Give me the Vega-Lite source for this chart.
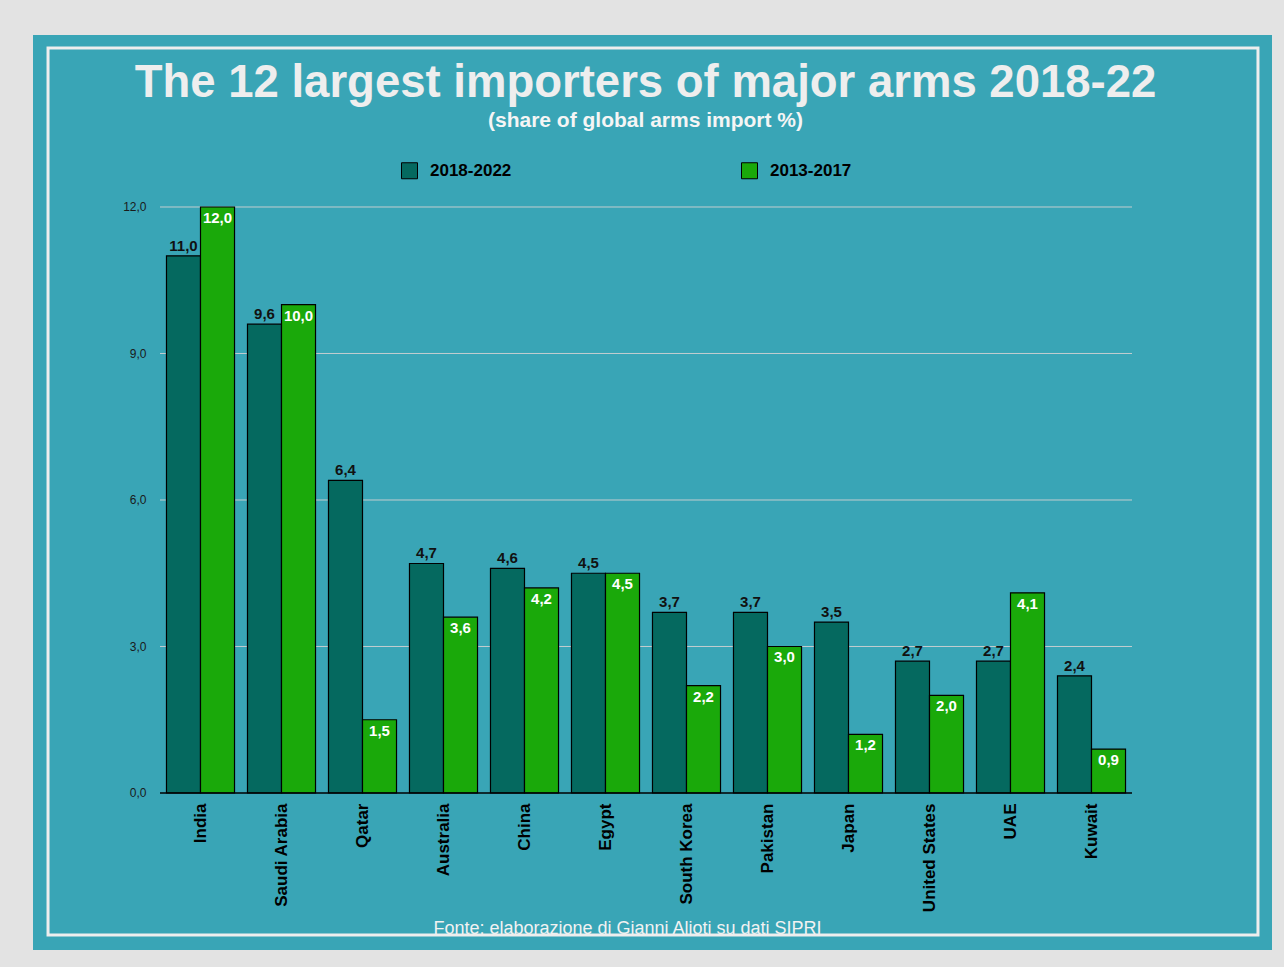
{
  "$schema": "https://vega.github.io/schema/vega-lite/v6.json",
  "width": 1239,
  "height": 915,
  "autosize": {"type": "none"},
  "padding": {"left": 33, "top": 35, "right": 12, "bottom": 17},
  "background": "#e3e3e3",
  "config": {
    "view": {"fill": "#39a5b6", "stroke": null},
    "font": "Liberation Sans",
    "locale": {"number": {"decimal": ",", "thousands": ".", "grouping": [3], "currency": ["", "€"]}}
  },
  "title": {
    "text": "The 12 largest importers of major arms 2018-22",
    "subtitle": "(share of global arms import %)",
    "anchor": "middle",
    "frame": "group",
    "offset": -96,
    "dx": -7,
    "font": "Liberation Sans",
    "fontSize": 45.5,
    "fontWeight": "bold",
    "color": "#eeeeee",
    "subtitleFont": "Liberation Sans",
    "subtitleColor": "#f5f5f5",
    "subtitleFontSize": 21,
    "subtitleFontWeight": "bold",
    "subtitlePadding": 4
  },
  "datasets": {
    "arms": [
      {"country": "India", "period": "2018-2022", "value": 11.0},
      {"country": "India", "period": "2013-2017", "value": 12.0},
      {"country": "Saudi Arabia", "period": "2018-2022", "value": 9.6},
      {"country": "Saudi Arabia", "period": "2013-2017", "value": 10.0},
      {"country": "Qatar", "period": "2018-2022", "value": 6.4},
      {"country": "Qatar", "period": "2013-2017", "value": 1.5},
      {"country": "Australia", "period": "2018-2022", "value": 4.7},
      {"country": "Australia", "period": "2013-2017", "value": 3.6},
      {"country": "China", "period": "2018-2022", "value": 4.6},
      {"country": "China", "period": "2013-2017", "value": 4.2},
      {"country": "Egypt", "period": "2018-2022", "value": 4.5},
      {"country": "Egypt", "period": "2013-2017", "value": 4.5},
      {"country": "South Korea", "period": "2018-2022", "value": 3.7},
      {"country": "South Korea", "period": "2013-2017", "value": 2.2},
      {"country": "Pakistan", "period": "2018-2022", "value": 3.7},
      {"country": "Pakistan", "period": "2013-2017", "value": 3.0},
      {"country": "Japan", "period": "2018-2022", "value": 3.5},
      {"country": "Japan", "period": "2013-2017", "value": 1.2},
      {"country": "United States", "period": "2018-2022", "value": 2.7},
      {"country": "United States", "period": "2013-2017", "value": 2.0},
      {"country": "UAE", "period": "2018-2022", "value": 2.7},
      {"country": "UAE", "period": "2013-2017", "value": 4.1},
      {"country": "Kuwait", "period": "2018-2022", "value": 2.4},
      {"country": "Kuwait", "period": "2013-2017", "value": 0.9}
    ]
  },
  "resolve": {"scale": {"x": "independent"}},
  "layer": [
    {
      "data": {"values": [{"v": 3}, {"v": 6}, {"v": 9}, {"v": 12}]},
      "mark": {"type": "rule", "color": "#c3cdd0", "strokeWidth": 1},
      "encoding": {
        "x": {"datum": 0, "type": "quantitative", "scale": {"domain": [-0.13066, 1.14403], "nice": false, "zero": false}, "axis": null},
        "x2": {"datum": 1},
        "y": {
          "field": "v", "type": "quantitative", "title": null,
          "scale": {"domain": [-3.215, 15.522], "nice": false, "zero": false},
          "axis": {
            "values": [0, 3, 6, 9, 12], "format": ".1f", "offset": -113, "ticks": false, "domain": false, "grid": false,
            "labelFontSize": 12, "labelColor": "#1a1a1a", "labelPadding": 0, "title": null
          }
        }
      }
    },
    {
      "data": {"values": [{"b": 1}]},
      "mark": {"type": "rect", "filled": false, "color": "#eeeeee", "strokeWidth": 3},
      "encoding": {
        "x": {"datum": -0.1152, "type": "quantitative", "scale": {"domain": [-0.13066, 1.14403], "nice": false, "zero": false}, "axis": null},
        "x2": {"datum": 1.1296},
        "y": {
          "datum": -2.908, "type": "quantitative", "title": null,
          "scale": {"domain": [-3.215, 15.522], "nice": false, "zero": false},
          "axis": {
            "values": [0, 3, 6, 9, 12], "format": ".1f", "offset": -113, "ticks": false, "domain": false, "grid": false,
            "labelFontSize": 12, "labelColor": "#1a1a1a", "labelPadding": 0, "title": null
          }
        },
        "y2": {"datum": 15.257}
      }
    },
    {
      "data": {"name": "arms"},
      "layer": [
        {
          "mark": {"type": "bar", "stroke": "#000000", "strokeWidth": 1.2},
          "encoding": {
            "x": {
              "field": "country", "type": "nominal", "sort": null,
              "scale": {"range": [127, 1099], "paddingInner": 0.16, "paddingOuter": 0.08},
              "axis": {
                "orient": "bottom", "offset": -157, "labelAngle": -90, "labelAlign": "right", "labelBaseline": "middle",
                "labelPadding": 10, "labelFontSize": 17, "labelFontWeight": "bold", "labelColor": "#000000",
                "ticks": false, "domain": false, "grid": false,
                "title": "Fonte: elaborazione di Gianni Alioti su dati SIPRI",
                "titleColor": "#f2f2f2", "titleFontSize": 18, "titleFontWeight": "normal",
                "titleX": 594, "titleY": 140, "titleAlign": "center", "titleBaseline": "alphabetic"
              }
            },
            "xOffset": {"field": "period", "type": "nominal", "sort": ["2018-2022", "2013-2017"], "scale": {"domain": ["2018-2022", "2013-2017"]}},
            "y": {
              "field": "value", "type": "quantitative", "stack": null, "title": null,
              "scale": {"domain": [-3.215, 15.522], "nice": false, "zero": false},
              "axis": {
                "values": [0, 3, 6, 9, 12], "format": ".1f", "offset": -113, "ticks": false, "domain": false, "grid": false,
                "labelFontSize": 12, "labelColor": "#1a1a1a", "labelPadding": 0, "title": null
              }
            },
            "color": {
              "field": "period", "type": "nominal",
              "scale": {"domain": ["2018-2022", "2013-2017"], "range": ["#05695f", "#1aa90a"]},
              "legend": {
                "orient": "none", "legendX": 368, "legendY": 127, "direction": "horizontal", "title": null,
                "symbolType": "square", "symbolSize": 256, "symbolStrokeColor": "#000000", "symbolStrokeWidth": 1,
                "symbolOpacity": 1, "labelFontSize": 17, "labelFontWeight": "bold", "labelColor": "#000000",
                "labelOffset": 12, "columnPadding": 227, "padding": 0
              }
            }
          }
        },
        {
          "transform": [{"filter": "datum.period == '2018-2022'"}],
          "mark": {"type": "text", "baseline": "alphabetic", "dy": -5, "fontWeight": "bold", "fontSize": 15, "color": "#111111"},
          "encoding": {
            "x": {"field": "country", "type": "nominal", "sort": null},
            "xOffset": {"field": "period", "type": "nominal", "sort": ["2018-2022", "2013-2017"], "scale": {"domain": ["2018-2022", "2013-2017"]}},
            "y": {"field": "value", "type": "quantitative", "stack": null, "title": null, "scale": {"domain": [-3.215, 15.522], "nice": false, "zero": false}},
            "text": {"field": "value", "type": "quantitative", "format": ".1f"}
          }
        },
        {
          "transform": [{"filter": "datum.period == '2013-2017'"}],
          "mark": {"type": "text", "baseline": "top", "dy": 4, "fontWeight": "bold", "fontSize": 15, "color": "#ffffff"},
          "encoding": {
            "x": {"field": "country", "type": "nominal", "sort": null},
            "xOffset": {"field": "period", "type": "nominal", "sort": ["2018-2022", "2013-2017"], "scale": {"domain": ["2018-2022", "2013-2017"]}},
            "y": {"field": "value", "type": "quantitative", "stack": null, "title": null, "scale": {"domain": [-3.215, 15.522], "nice": false, "zero": false}},
            "text": {"field": "value", "type": "quantitative", "format": ".1f"}
          }
        }
      ]
    },
    {
      "data": {"values": [{"b": 0}]},
      "mark": {"type": "rule", "color": "#000000", "strokeWidth": 1.5},
      "encoding": {
        "x": {"datum": 0, "type": "quantitative", "scale": {"domain": [-0.13066, 1.14403], "nice": false, "zero": false}, "axis": null},
        "x2": {"datum": 1},
        "y": {
          "datum": 0, "type": "quantitative", "title": null,
          "scale": {"domain": [-3.215, 15.522], "nice": false, "zero": false},
          "axis": {
            "values": [0, 3, 6, 9, 12], "format": ".1f", "offset": -113, "ticks": false, "domain": false, "grid": false,
            "labelFontSize": 12, "labelColor": "#1a1a1a", "labelPadding": 0, "title": null
          }
        }
      }
    }
  ]
}
